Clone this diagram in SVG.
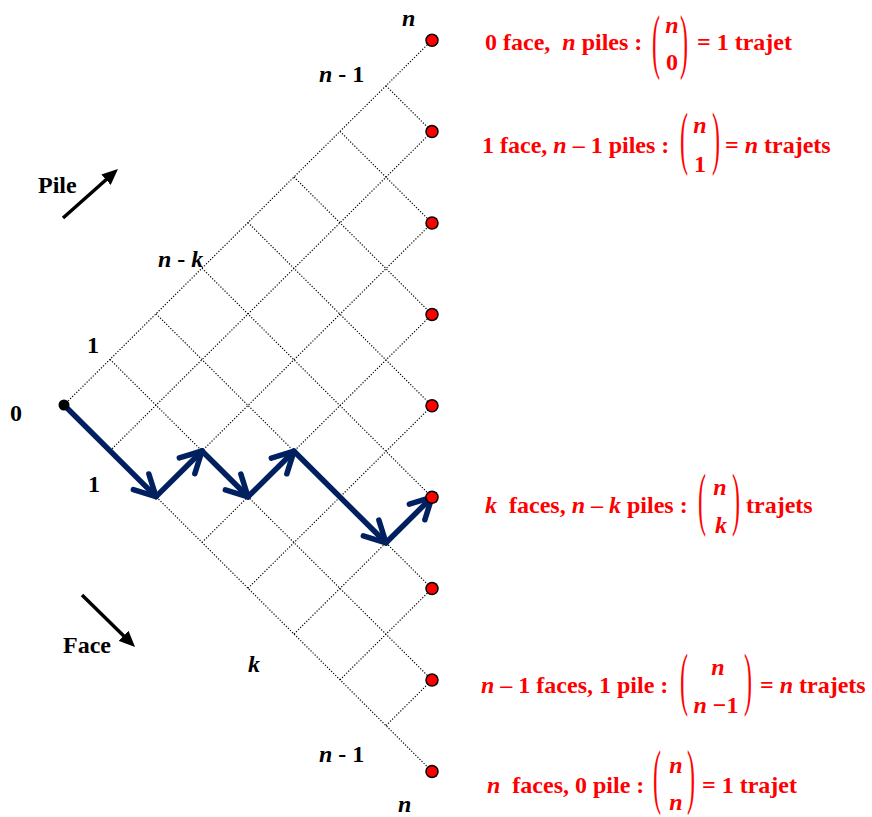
<svg xmlns="http://www.w3.org/2000/svg" width="872" height="817" viewBox="0 0 872 817">
<style>
.g{stroke:#000;stroke-width:1.2;stroke-dasharray:1.2 1.7;fill:none}
.t{font-family:"Liberation Serif","Times New Roman",serif;font-weight:bold;font-size:24px;fill:#000}
.r{fill:#ff0000}
.i{font-style:italic}
.p{font-family:"Liberation Serif","Times New Roman",serif;font-weight:normal;font-size:24px;fill:#ff0000}
.nav{stroke:#002060;stroke-width:5.5;fill:none;stroke-linecap:round;marker-end:url(#chev)}
.blk{stroke:#000;stroke-width:3.5;fill:none;marker-end:url(#tri)}
.dot{fill:#ff0000;stroke:#000;stroke-width:1.5}
</style>
<defs>
<marker id="chev" markerUnits="userSpaceOnUse" markerWidth="40" markerHeight="40" viewBox="-30 -20 40 40" refX="0" refY="0" orient="auto" overflow="visible">
<path d="M-21,-11 L0,0 L-21,11" stroke="#002060" stroke-width="5.5" fill="none" stroke-linejoin="round" stroke-linecap="round"/>
</marker>
<marker id="tri" markerUnits="userSpaceOnUse" markerWidth="18" markerHeight="14" viewBox="0 0 18 14" refX="6" refY="7" orient="auto">
<path d="M0,0 L16,7 L0,14 z" fill="#000"/>
</marker>
</defs>
<g id="grid">
<line class="g" x1="64" y1="405" x2="437" y2="35.2"/>
<line class="g" x1="110" y1="450.8" x2="437" y2="126.6"/>
<line class="g" x1="156" y1="496.6" x2="437" y2="218"/>
<line class="g" x1="202" y1="542.4" x2="437" y2="309.4"/>
<line class="g" x1="248" y1="588.2" x2="437" y2="400.8"/>
<line class="g" x1="294" y1="634" x2="437" y2="492.2"/>
<line class="g" x1="340" y1="679.8" x2="437" y2="583.6"/>
<line class="g" x1="386" y1="725.6" x2="437" y2="675"/>
<line class="g" x1="64" y1="405" x2="437" y2="776.4"/>
<line class="g" x1="110" y1="359.4" x2="437" y2="685"/>
<line class="g" x1="156" y1="313.8" x2="437" y2="593.6"/>
<line class="g" x1="202" y1="268.2" x2="437" y2="502.2"/>
<line class="g" x1="248" y1="222.6" x2="437" y2="410.8"/>
<line class="g" x1="294" y1="177" x2="437" y2="319.4"/>
<line class="g" x1="340" y1="131.4" x2="437" y2="228"/>
<line class="g" x1="386" y1="85.8" x2="437" y2="136.6"/>
</g>
<g id="connectors">
<line class="nav" x1="64" y1="405" x2="156" y2="496.6"/>
<line class="nav" x1="156" y1="496.6" x2="202" y2="451"/>
<line class="nav" x1="202" y1="451" x2="248" y2="496.8"/>
<line class="nav" x1="248" y1="496.8" x2="294" y2="451.2"/>
<line class="nav" x1="294" y1="451.2" x2="386" y2="542.8"/>
<line class="nav" x1="386" y1="542.8" x2="432" y2="497.2"/>
<line class="blk" x1="63" y1="218" x2="110.5" y2="175.7"/>
<line class="blk" x1="82" y1="595" x2="127.9" y2="640"/>
</g>
<g id="origin"><circle cx="64" cy="405" r="5.5" fill="#000"/></g>
<g id="ends">
<circle class="dot" cx="432" cy="40.2" r="6"/>
<circle class="dot" cx="432" cy="131.6" r="6"/>
<circle class="dot" cx="432" cy="223" r="6"/>
<circle class="dot" cx="432" cy="314.4" r="6"/>
<circle class="dot" cx="432" cy="405.8" r="6"/>
<circle class="dot" cx="432" cy="497.2" r="6"/>
<circle class="dot" cx="432" cy="588.6" r="6"/>
<circle class="dot" cx="432" cy="680" r="6"/>
<circle class="dot" cx="432" cy="771.4" r="6"/>
</g>
<g id="labels">
<text class="t i" x="402" y="26">n</text>
<text class="t" x="319" y="82"><tspan class="i">n</tspan> - 1</text>
<text class="t" x="158" y="267"><tspan class="i">n</tspan> - <tspan class="i">k</tspan></text>
<text class="t" x="87" y="353">1</text>
<text class="t" x="10" y="421">0</text>
<text class="t" x="88" y="492">1</text>
<text class="t i" x="248" y="672">k</text>
<text class="t" x="319" y="762"><tspan class="i">n</tspan> - 1</text>
<text class="t i" x="398" y="812">n</text>
<text class="t" x="38" y="193">Pile</text>
<text class="t" x="63" y="653">Face</text>
</g>
<g id="row0">
<text class="t r" x="485" y="50" xml:space="preserve">0 face,  <tspan class="i">n</tspan> piles :</text>
<text class="p" transform="translate(652,64.5) scale(1,3.0)">(</text>
<text class="t r i" x="672" y="33" text-anchor="middle">n</text>
<text class="t r" x="672" y="70" text-anchor="middle">0</text>
<text class="p" transform="translate(680,64.5) scale(1,3.0)">)</text>
<text class="t r" x="697" y="50">= 1 trajet</text>
</g>
<g id="row1">
<text class="t r" x="482" y="153">1 face, <tspan class="i">n</tspan> – 1 piles :</text>
<text class="p" transform="translate(680,160.6) scale(1,2.95)">(</text>
<text class="t r i" x="700" y="133" text-anchor="middle">n</text>
<text class="t r" x="700" y="172" text-anchor="middle">1</text>
<text class="p" transform="translate(712,160.6) scale(1,2.95)">)</text>
<text class="t r" x="725" y="153">= <tspan class="i">n</tspan> trajets</text>
</g>
<g id="rowk">
<text class="t r" x="485" y="513" xml:space="preserve"><tspan class="i">k</tspan>  faces, <tspan class="i">n</tspan> – <tspan class="i">k</tspan> piles :</text>
<text class="p" transform="translate(698,521.6) scale(1,2.9)">(</text>
<text class="t r i" x="720" y="495" text-anchor="middle">n</text>
<text class="t r i" x="721" y="533" text-anchor="middle">k</text>
<text class="p" transform="translate(732,521.6) scale(1,2.9)">)</text>
<text class="t r" x="746" y="513">trajets</text>
</g>
<g id="rown1">
<text class="t r" x="481" y="693"><tspan class="i">n</tspan> – 1 faces, 1 pile :</text>
<text class="p" transform="translate(680,701.6) scale(1,2.9)">(</text>
<text class="t r i" x="718" y="675" text-anchor="middle">n</text>
<text class="t r" x="716" y="713" text-anchor="middle"><tspan class="i">n</tspan> −1</text>
<text class="p" transform="translate(744,701.6) scale(1,2.9)">)</text>
<text class="t r" x="760" y="693">= <tspan class="i">n</tspan> trajets</text>
</g>
<g id="rown">
<text class="t r" x="487" y="793" xml:space="preserve"><tspan class="i">n</tspan>  faces, 0 pile :</text>
<text class="p" transform="translate(653,799.6) scale(1,3.0)">(</text>
<text class="t r i" x="676" y="773" text-anchor="middle">n</text>
<text class="t r i" x="676" y="810" text-anchor="middle">n</text>
<text class="p" transform="translate(687,799.6) scale(1,3.0)">)</text>
<text class="t r" x="702" y="793">= 1 trajet</text>
</g>
</svg>
